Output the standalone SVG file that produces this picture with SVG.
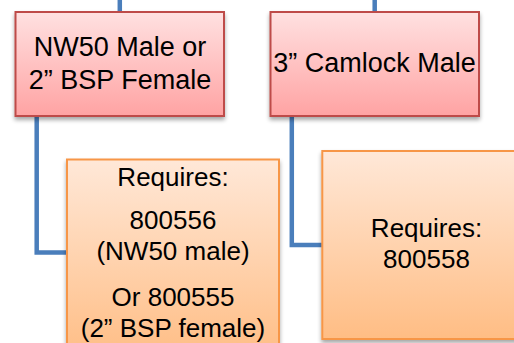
<svg xmlns="http://www.w3.org/2000/svg" width="514" height="343" viewBox="0 0 514 343">
<defs>
<linearGradient id="gRed" x1="0" y1="0" x2="0" y2="1">
<stop offset="0" stop-color="#ffe1e1"/>
<stop offset="1" stop-color="#ffa3a3"/>
</linearGradient>
<linearGradient id="gOrange" x1="0" y1="0" x2="0" y2="1">
<stop offset="0" stop-color="#ffe8d8"/>
<stop offset="1" stop-color="#ffbd84"/>
</linearGradient>
<filter id="sh" x="-10%" y="-10%" width="120%" height="130%">
<feGaussianBlur in="SourceAlpha" stdDeviation="2.2"/>
<feOffset dx="0" dy="3" result="b"/>
<feComponentTransfer><feFuncA type="linear" slope="0.35"/></feComponentTransfer>
<feMerge><feMergeNode/><feMergeNode in="SourceGraphic"/></feMerge>
</filter>
</defs>
<style>
.red{fill:url(#gRed);stroke:#be4b48;stroke-width:2}
.org{fill:url(#gOrange);stroke:#f79646;stroke-width:2}
.conn{fill:none;stroke:#4a7ebb;stroke-width:4.5;stroke-linejoin:miter}
text{font-family:"Liberation Sans",Arial,sans-serif;font-size:26px;fill:#000;text-anchor:middle}
.big{font-size:27px}
</style>
<rect width="514" height="343" fill="#ffffff"/>
<g id="connectors">
<line class="conn" x1="119.8" y1="0" x2="119.8" y2="13"/>
<line class="conn" x1="374.7" y1="0" x2="374.7" y2="13"/>
<polyline class="conn" points="36.7,116 36.7,252.5 67,252.5"/>
<polyline class="conn" points="291.8,116 291.8,245 322,245"/>
</g>
<g id="node-nw50">
<rect class="red" x="15.5" y="12" width="208.5" height="104" filter="url(#sh)"/>
<text class="big" x="120" y="56">NW50 Male or</text>
<text class="big" x="120" y="89">2” BSP Female</text>
</g>
<g id="node-camlock">
<rect class="red" x="270.5" y="12" width="208.5" height="104" filter="url(#sh)"/>
<text class="big" x="374.5" y="72">3” Camlock Male</text>
</g>
<g id="node-req-left">
<rect class="org" x="67" y="159.5" width="212" height="200" filter="url(#sh)"/>
<text x="173" y="186">Requires:</text>
<text x="173" y="228.5">800556</text>
<text x="173" y="260">(NW50 male)</text>
<text x="173" y="306">Or 800555</text>
<text x="173" y="336.5">(2” BSP female)</text>
</g>
<g id="node-req-right">
<rect class="org" x="322.3" y="151" width="220" height="188" filter="url(#sh)"/>
<text x="426.5" y="236.7">Requires:</text>
<text x="426.5" y="268.3">800558</text>
</g>
</svg>
